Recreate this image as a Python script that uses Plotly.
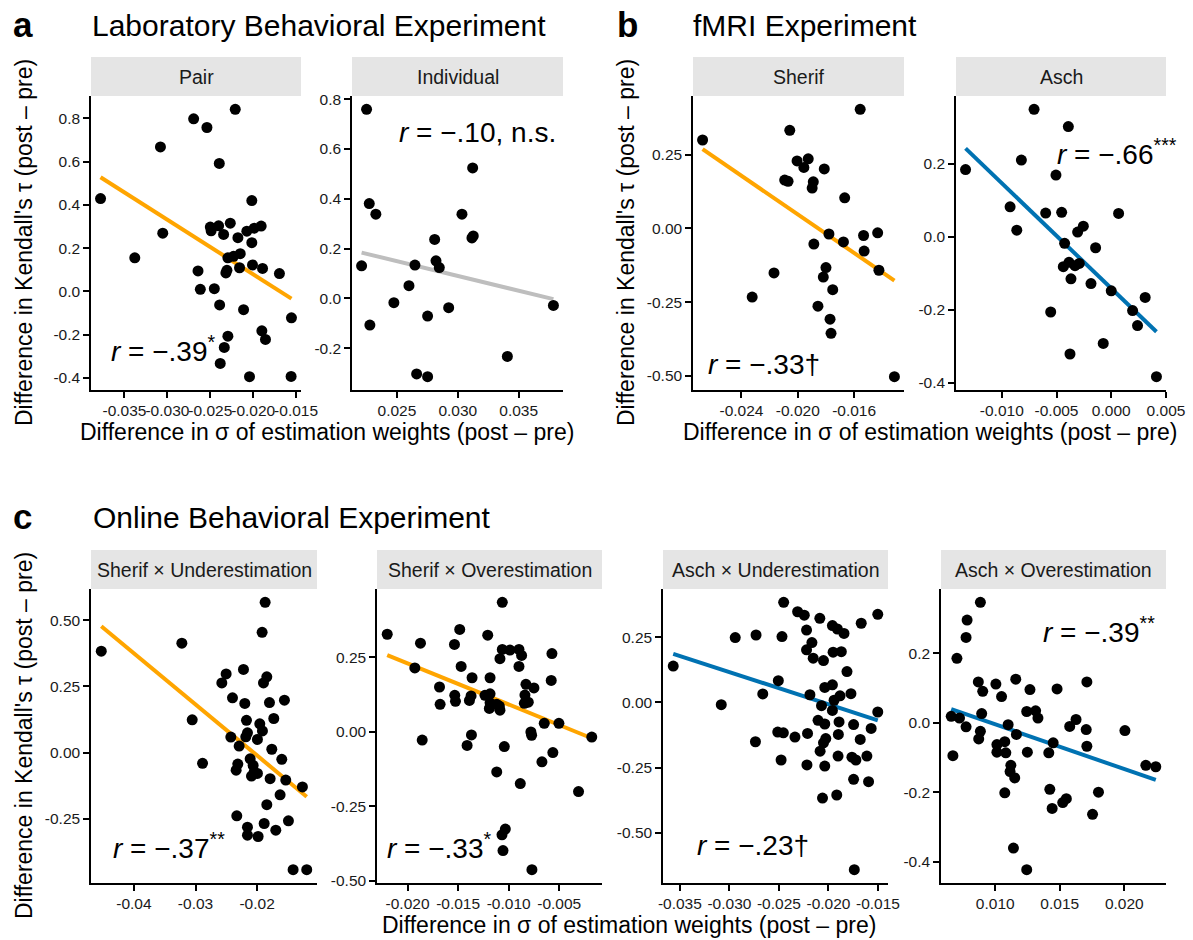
import plotly.graph_objects as go

FONT = "Liberation Sans, Arial, Helvetica, sans-serif"
W, H = 1193, 940

# ---------------- data ----------------
pair_x = [-0.03779, -0.0338, -0.03081, -0.03054, -0.02694, -0.02539, -0.02209, -0.02395, -0.02643, -0.02616,
          -0.02453, -0.02391, -0.0250, -0.0249, -0.02403, -0.02345, -0.02267, -0.02295, -0.02229, -0.02151,
          -0.02318, -0.02306, -0.02159, -0.02178, -0.02074, -0.01988, -0.01907, -0.02016, -0.02016, -0.02008,
          -0.01891, -0.01694, -0.02112, -0.02295, -0.02337, -0.02384, -0.01899, -0.01857, -0.02043, -0.01558,
          -0.01554]
pair_y = [0.429, 0.155, 0.668, 0.269, 0.798, 0.758, 0.842, 0.592, 0.094, 0.009,
          0.012, -0.063, 0.297, 0.280, 0.303, 0.263, 0.315, 0.155, 0.162, 0.174,
          0.085, 0.097, 0.109, 0.248, 0.278, 0.292, 0.302, 0.420, 0.225, 0.122,
          0.106, 0.082, -0.085, -0.208, -0.260, -0.334, -0.183, -0.223, -0.395, -0.394,
          -0.123]
pair_fit_x = [-0.03779, -0.01554]
pair_fit_y = [0.528, -0.034]

ind_x = [0.02251, 0.0221, 0.02273, 0.02327, 0.02278, 0.02475, 0.02599, 0.02648, 0.02662, 0.02752,
         0.02752, 0.0281, 0.02821, 0.02848, 0.02925, 0.03034, 0.03122, 0.03116, 0.03127, 0.03407,
         0.03785]
ind_y = [0.759, 0.131, 0.381, 0.338, -0.107, -0.017, 0.051, 0.134, -0.303, -0.314,
         -0.071, 0.237, 0.151, 0.124, -0.037, 0.338, 0.524, 0.243, 0.251, -0.233,
         -0.028]
ind_fit_x = [0.0221, 0.03785]
ind_fit_y = [0.184, -0.003]

fmri_sherif_x = [-0.02676, -0.02057, -0.01557, -0.02005, -0.01926, -0.01957, -0.01812, -0.02093, -0.02069, -0.0189,
                 -0.01898, -0.01667, -0.01779, -0.01886, -0.01676, -0.01533, -0.01433, -0.01529, -0.01424, -0.018,
                 -0.01819, -0.02169, -0.01752, -0.02324, -0.01857, -0.01771, -0.01764, -0.01314]
fmri_sherif_y = [0.300, 0.333, 0.404, 0.229, 0.236, 0.207, 0.202, 0.164, 0.160, 0.158,
                 0.137, 0.104, -0.019, -0.053, -0.046, -0.024, -0.015, -0.077, -0.142, -0.133,
                 -0.165, -0.151, -0.208, -0.233, -0.264, -0.308, -0.356, -0.503]
fmri_sherif_fit_x = [-0.02676, -0.01314]
fmri_sherif_fit_y = [0.269, -0.177]

fmri_asch_x = [-0.01331, -0.00705, -0.00392, -0.00821, -0.00505, -0.00924, -0.00863, -0.00599, -0.00453, 0.00067,
               -0.00307, -0.00255, -0.00426, -0.00143, -0.00438, -0.00386, -0.00331, -0.00292, -0.00368, -0.00185,
               0.0, 0.00195, 0.0031, 0.0024, -0.00553, -0.00073, -0.00377, 0.00413]
fmri_asch_y = [0.184, 0.349, 0.302, 0.210, 0.169, 0.082, 0.018, 0.065, 0.067, 0.064,
               0.013, 0.029, -0.018, -0.030, -0.082, -0.070, -0.079, -0.073, -0.115, -0.128,
               -0.148, -0.202, -0.166, -0.243, -0.206, -0.292, -0.321, -0.383]
fmri_asch_fit_x = [-0.01331, 0.00413]
fmri_asch_fit_y = [0.242, -0.260]

su_x = [-0.0453, -0.03222, -0.03054, -0.02886, -0.0187, -0.01919, -0.02222, -0.02503, -0.02573, -0.01843,
        -0.01897, -0.024, -0.022, -0.018, -0.01557, -0.0173, -0.02173, -0.01957, -0.01914, -0.01995,
        -0.02157, -0.02184, -0.02427, -0.02292, -0.01762, -0.02113, -0.016, -0.02314, -0.02341, -0.02065,
        -0.02049, -0.02092, -0.01995, -0.01789, -0.01535, -0.01265, -0.01627, -0.01843, -0.0233, -0.01492,
        -0.02157, -0.02157, -0.01984, -0.01886, -0.01697, -0.01416, -0.01195]
su_y = [0.383, 0.413, 0.124, -0.040, 0.567, 0.454, 0.314, 0.297, 0.263, 0.286,
        0.263, 0.207, 0.186, 0.189, 0.198, 0.129, 0.122, 0.109, 0.082, 0.050,
        0.075, 0.060, 0.059, 0.025, 0.013, -0.023, -0.025, -0.043, -0.066, -0.048,
        -0.073, -0.088, -0.078, -0.098, -0.103, -0.129, -0.159, -0.196, -0.238, -0.257,
        -0.281, -0.311, -0.316, -0.267, -0.292, -0.441, -0.441]
su_fit_x = [-0.0453, -0.01195]
su_fit_y = [0.477, -0.166]

so_x = [-0.02201, -0.01928, -0.01872, -0.01855, -0.01684, -0.01678, -0.01484, -0.01536, -0.0147, -0.01362,
        -0.01372, -0.01533, -0.01526, -0.01388, -0.01368, -0.01411, -0.01207, -0.01184, -0.01184, -0.01234,
        -0.01184, -0.01191, -0.01086, -0.01063, -0.00987, -0.00898, -0.00872, -0.00898, -0.01063, -0.01092,
        -0.01118, -0.01086, -0.01043, -0.01118, -0.00829, -0.00839, -0.0075, -0.00806, -0.00845, -0.0078,
        -0.00773, -0.00648, -0.00572, -0.00579, -0.00503, -0.00671, -0.00563, -0.00885, -0.00309, -0.00178,
        -0.01033, -0.01066, -0.01056, -0.0077]
so_y = [0.328, 0.215, 0.298, -0.027, 0.151, 0.093, 0.344, 0.294, 0.220, 0.182,
        0.121, 0.123, 0.103, 0.106, -0.010, -0.045, 0.325, 0.182, 0.128, 0.123,
        0.098, 0.079, 0.246, 0.277, 0.275, 0.277, 0.257, 0.220, 0.435, 0.087,
        0.093, 0.073, -0.049, -0.134, 0.160, 0.124, 0.148, 0.100, 0.096, 0.000,
        -0.011, 0.029, 0.263, 0.173, 0.029, -0.100, -0.069, -0.173, -0.200, -0.017,
        -0.326, -0.345, -0.398, -0.462]
so_fit_x = [-0.02201, -0.00178]
so_fit_y = [0.258, -0.021]

au_x = [-0.03567, -0.03082, -0.02941, -0.02731, -0.02737, -0.02663, -0.02452, -0.02469, -0.02506, -0.02512,
        -0.02455, -0.02478, -0.02338, -0.02311, -0.02244, -0.02221, -0.02167, -0.02221, -0.02154, -0.02087,
        -0.0205, -0.02211, -0.02217, -0.02187, -0.02105, -0.0207, -0.02037, -0.02084, -0.0205, -0.02027,
        -0.02037, -0.0206, -0.02037, -0.0196, -0.0196, -0.0191, -0.01843, -0.01953, -0.0187, -0.01813,
        -0.01943, -0.01883, -0.0196, -0.01893, -0.019, -0.01903, -0.01916, -0.01773, -0.01746, -0.01763,
        -0.01723, -0.01679, -0.01746, -0.01669, -0.01612, -0.01595, -0.01569, -0.01502, -0.01502, -0.01739]
au_y = [0.139, -0.009, 0.248, 0.258, -0.151, 0.032, 0.383, 0.252, 0.083, -0.114,
        -0.117, -0.221, -0.133, 0.347, 0.334, 0.277, 0.229, 0.201, 0.169, 0.322,
        0.160, -0.119, -0.240, 0.029, -0.069, -0.013, -0.083, -0.187, -0.155, -0.139,
        -0.244, -0.367, 0.057, 0.067, 0.294, 0.281, 0.264, 0.192, 0.194, 0.118,
        0.008, 0.025, -0.031, -0.075, -0.123, -0.206, -0.355, 0.033, -0.085, -0.210,
        -0.221, -0.142, -0.295, 0.303, -0.206, -0.304, -0.100, 0.337, -0.037, -0.641]
au_fit_x = [-0.03567, -0.01502]
au_fit_y = [0.186, -0.069]

ao_x = [0.00659, 0.00672, 0.00703, 0.00723, 0.00774, 0.00782, 0.00774, 0.00885, 0.00869, 0.00903,
        0.00895, 0.00885, 0.00872, 0.01005, 0.01049, 0.01013, 0.01013, 0.01082, 0.01074, 0.011,
        0.01164, 0.01159, 0.01121, 0.01115, 0.01151, 0.01074, 0.01141, 0.01244, 0.01244, 0.01269,
        0.01313, 0.01331, 0.01249, 0.01415, 0.01449, 0.01423, 0.01441, 0.01479, 0.01523, 0.01551,
        0.01577, 0.01626, 0.01705, 0.0171, 0.0171, 0.018, 0.01754, 0.02005, 0.02167, 0.02244]
ao_y = [0.019, -0.094, 0.186, 0.014, 0.246, 0.296, -0.011, 0.347, 0.118, 0.091,
        0.027, -0.024, -0.046, 0.112, 0.076, -0.062, -0.084, -0.086, -0.054, -0.005,
        -0.033, 0.126, -0.122, -0.140, -0.158, -0.201, -0.360, -0.422, 0.033, 0.096,
        0.035, 0.014, -0.084, -0.086, -0.057, -0.191, -0.246, 0.098, -0.229, -0.218,
        -0.010, 0.010, -0.019, -0.067, 0.118, -0.199, -0.263, -0.022, -0.122, -0.126]
ao_fit_x = [0.00659, 0.02244]
ao_fit_y = [0.040, -0.164]

panel_titles = ["Pair", "Individual", "Sherif", "Asch",
                "Sherif × Underestimation", "Sherif × Overestimation",
                "Asch × Underestimation", "Asch × Overestimation"]
stat_labels = ["<i>r</i> = −.39<sup>*</sup>", "<i>r</i> = −.10, n.s.", "<i>r</i> = −.33†",
               "<i>r</i> = −.66<sup>***</sup>", "<i>r</i> = −.37<sup>**</sup>", "<i>r</i> = −.33<sup>*</sup>",
               "<i>r</i> = −.23†", "<i>r</i> = −.39<sup>**</sup>"]
stat_x = [-0.0368, 0.03826, -0.02652, -0.00514, -0.04378, -0.02224, -0.0335, 0.01351]
stat_y = [-0.265, 0.668, -0.463, 0.2325, -0.351, -0.382, -0.549, 0.2675]

pair_xticks = [-0.035, -0.030, -0.025, -0.020, -0.015]
pair_xlabels = ["-0.035", "-0.030", "-0.025", "-0.020", "-0.015"]
pair_yticks = [-0.4, -0.2, 0.0, 0.2, 0.4, 0.6, 0.8]
pair_ylabels = ["-0.4", "-0.2", "0.0", "0.2", "0.4", "0.6", "0.8"]
ind_xticks = [0.025, 0.030, 0.035]
ind_xlabels = ["0.025", "0.030", "0.035"]
ind_yticks = [-0.2, 0.0, 0.2, 0.4, 0.6, 0.8]
ind_ylabels = ["-0.2", "0.0", "0.2", "0.4", "0.6", "0.8"]
fs_xticks = [-0.024, -0.020, -0.016]
fs_xlabels = ["-0.024", "-0.020", "-0.016"]
fs_yticks = [-0.50, -0.25, 0.0, 0.25]
fs_ylabels = ["-0.50", "-0.25", "0.00", "0.25"]
fa_xticks = [-0.010, -0.005, 0.000, 0.005]
fa_xlabels = ["-0.010", "-0.005", "0.000", "0.005"]
fa_yticks = [-0.4, -0.2, 0.0, 0.2]
fa_ylabels = ["-0.4", "-0.2", "0.0", "0.2"]
su_xticks = [-0.04, -0.03, -0.02]
su_xlabels = ["-0.04", "-0.03", "-0.02"]
su_yticks = [-0.25, 0.0, 0.25, 0.50]
su_ylabels = ["-0.25", "0.00", "0.25", "0.50"]
so_xticks = [-0.020, -0.015, -0.010, -0.005]
so_xlabels = ["-0.020", "-0.015", "-0.010", "-0.005"]
so_yticks = [-0.50, -0.25, 0.0, 0.25]
so_ylabels = ["-0.50", "-0.25", "0.00", "0.25"]
au_xticks = [-0.035, -0.030, -0.025, -0.020, -0.015]
au_xlabels = ["-0.035", "-0.030", "-0.025", "-0.020", "-0.015"]
au_yticks = [-0.50, -0.25, 0.0, 0.25]
au_ylabels = ["-0.50", "-0.25", "0.00", "0.25"]
ao_xticks = [0.010, 0.015, 0.020]
ao_xlabels = ["0.010", "0.015", "0.020"]
ao_yticks = [-0.4, -0.2, 0.0, 0.2]
ao_ylabels = ["-0.4", "-0.2", "0.0", "0.2"]

ORANGE, BLUE, GREY = "#FFA500", "#0072B2", "#BEBEBE"

panels = [
    (pair_x, pair_y, pair_fit_x, pair_fit_y, ORANGE, pair_xticks, pair_xlabels, pair_yticks, pair_ylabels, "left"),
    (ind_x, ind_y, ind_fit_x, ind_fit_y, GREY, ind_xticks, ind_xlabels, ind_yticks, ind_ylabels, "right"),
    (fmri_sherif_x, fmri_sherif_y, fmri_sherif_fit_x, fmri_sherif_fit_y, ORANGE, fs_xticks, fs_xlabels, fs_yticks, fs_ylabels, "left"),
    (fmri_asch_x, fmri_asch_y, fmri_asch_fit_x, fmri_asch_fit_y, BLUE, fa_xticks, fa_xlabels, fa_yticks, fa_ylabels, "left"),
    (su_x, su_y, su_fit_x, su_fit_y, ORANGE, su_xticks, su_xlabels, su_yticks, su_ylabels, "left"),
    (so_x, so_y, so_fit_x, so_fit_y, ORANGE, so_xticks, so_xlabels, so_yticks, so_ylabels, "left"),
    (au_x, au_y, au_fit_x, au_fit_y, BLUE, au_xticks, au_xlabels, au_yticks, au_ylabels, "left"),
    (ao_x, ao_y, ao_fit_x, ao_fit_y, BLUE, ao_xticks, ao_xlabels, ao_yticks, ao_ylabels, "left"),
]

# layout geometry in pixels: (left, right, top, bottom) of each panel
boxes = [(91, 301, 96, 390), (352, 563, 96, 390), (693, 904, 96, 390), (956, 1166, 96, 390),
         (91, 317, 589, 883), (377, 602, 589, 883), (663, 888, 589, 883), (941, 1166, 589, 883)]
STRIP_H = 39


def fx(p):
    return p / W


def fy(p):
    return 1 - p / H


def expand(v):
    lo, hi = min(v), max(v)
    s = hi - lo
    return [lo - 0.05 * s, hi + 0.05 * s]


fig = go.Figure()
shapes, annotations = [], []
axis_common = dict(showline=True, linecolor="black", linewidth=1.5, ticks="outside", ticklen=6,
                   tickwidth=1.5, tickcolor="black", showgrid=False, zeroline=False, automargin=False,
                   tickangle=0, tickfont=dict(family=FONT, size=15.5, color="#1a1a1a"))

for i, (px_, py_, fxv, fyv, col, xt, xl, yt, yl, anc) in enumerate(panels):
    n = i + 1
    xa = "x" if n == 1 else f"x{n}"
    ya = "y" if n == 1 else f"y{n}"
    l, r, t, b = boxes[i]
    fig.add_trace(go.Scatter(x=fxv, y=fyv, mode="lines", line=dict(color=col, width=4),
                             xaxis=xa, yaxis=ya, hoverinfo="skip", showlegend=False))
    fig.add_trace(go.Scatter(x=px_, y=py_, mode="markers", marker=dict(color="black", size=11, line=dict(width=0)),
                             xaxis=xa, yaxis=ya, showlegend=False))
    fig.layout[f"xaxis{'' if n == 1 else n}"] = dict(
        domain=[fx(l), fx(r)], range=expand(px_), anchor=ya, tickvals=xt, ticktext=xl, **axis_common)
    fig.layout[f"yaxis{'' if n == 1 else n}"] = dict(
        domain=[fy(b), fy(t)], range=expand(py_), anchor=xa, tickvals=yt, ticktext=yl, **axis_common)
    # strip
    shapes.append(dict(type="rect", xref="paper", yref="paper", x0=fx(l), x1=fx(r),
                       y0=fy(t), y1=fy(t - STRIP_H), fillcolor="#E5E5E5", line=dict(width=0), layer="below"))
    annotations.append(dict(xref="paper", yref="paper", x=fx((l + r) / 2), y=fy(t - STRIP_H / 2),
                            text=panel_titles[i], showarrow=False, xanchor="center", yanchor="middle",
                            font=dict(family=FONT, size=19.5, color="#1a1a1a")))
    annotations.append(dict(xref=xa, yref=ya, x=stat_x[i], y=stat_y[i], text=stat_labels[i],
                            showarrow=False, xanchor=anc, yanchor="middle",
                            font=dict(family=FONT, size=28, color="black")))

# section titles
for lab, lx, tx, ty, title in [("a", 11, 90, 25, "Laboratory Behavioral Experiment"),
                               ("b", 615, 691, 25, "fMRI Experiment"),
                               ("c", 11, 91, 516, "Online Behavioral Experiment")]:
    annotations.append(dict(xref="paper", yref="paper", x=fx(lx), y=fy(ty), text=f"<b>{lab}</b>",
                            showarrow=False, xanchor="left", yanchor="middle",
                            font=dict(family=FONT, size=35, color="black")))
    annotations.append(dict(xref="paper", yref="paper", x=fx(tx), y=fy(ty + 1), text=title,
                            showarrow=False, xanchor="left", yanchor="middle",
                            font=dict(family=FONT, size=30, color="black")))

XT = "Difference in σ of estimation weights (post – pre)"
YT = "Difference in Kendall's τ (post – pre)"
for cx, cy in [(327, 432), (929.5, 432), (628.5, 925)]:
    annotations.append(dict(xref="paper", yref="paper", x=fx(cx), y=fy(cy), text=XT, showarrow=False,
                            xanchor="center", yanchor="middle", font=dict(family=FONT, size=23, color="black")))
for cx, cy in [(24, 243), (626, 243), (24, 736)]:
    annotations.append(dict(xref="paper", yref="paper", x=fx(cx), y=fy(cy), text=YT, showarrow=False,
                            textangle=-90, xanchor="center", yanchor="middle",
                            font=dict(family=FONT, size=23, color="black")))

fig.update_layout(width=W, height=H, margin=dict(l=0, r=0, t=0, b=0), paper_bgcolor="white",
                  plot_bgcolor="white", showlegend=False, shapes=shapes, annotations=annotations,
                  font=dict(family=FONT))
fig.write_html("out.html")
